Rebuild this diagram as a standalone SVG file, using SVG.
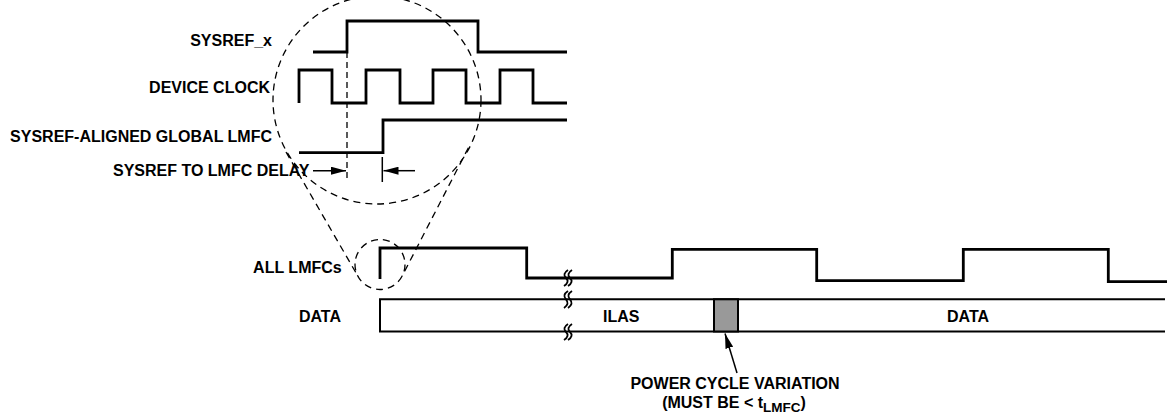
<svg xmlns="http://www.w3.org/2000/svg" width="1167" height="416" viewBox="0 0 1167 416">
<style>
text{font-family:"Liberation Sans",Arial,sans-serif;font-weight:bold;font-size:16px;fill:#000}
.sig{fill:none;stroke:#000;stroke-width:2.8;stroke-linejoin:miter;stroke-linecap:butt}
.box{fill:none;stroke:#000;stroke-width:2}
.dash{fill:none;stroke:#000;stroke-width:1.3;stroke-dasharray:7 5}
.vdash{fill:none;stroke:#000;stroke-width:1.3;stroke-dasharray:6 4}
.thin{fill:none;stroke:#000;stroke-width:1.5}
.sq{fill:none;stroke:#000;stroke-width:1.8}
</style>
<defs>
<marker id="ah" markerWidth="15" markerHeight="8" refX="15" refY="4" orient="auto" markerUnits="userSpaceOnUse">
<path d="M0,0 L15,4 L0,8 Z" fill="#000"/>
</marker>
</defs>
<rect x="0" y="0" width="1167" height="416" fill="#fff"/>

<g id="zoom-lens">
<circle class="dash" cx="377" cy="100" r="104"/>
<circle class="dash" cx="380" cy="264.5" r="25"/>
<line class="dash" x1="286" y1="152" x2="358.4" y2="277"/>
<line class="dash" x1="468.4" y1="147.7" x2="402.2" y2="276"/>
</g>

<g id="sysref-x">
<text x="272" y="45.7" text-anchor="end">SYSREF_x</text>
<path class="sig" d="M313,52 H347 V21 H478 V52 H567"/>
</g>

<g id="device-clock">
<text x="270" y="93.4" text-anchor="end">DEVICE CLOCK</text>
<path class="sig" d="M299,103 V70 H332 V103 H366 V70 H400 V103 H433 V70 H466 V103 H500 V70 H533 V103 H567"/>
</g>

<g id="global-lmfc">
<text x="272" y="142.4" text-anchor="end">SYSREF-ALIGNED GLOBAL LMFC</text>
<path class="sig" d="M299,152.7 H383 V120 H567"/>
</g>

<g id="delay">
<text x="113" y="176.4">SYSREF TO LMFC DELAY</text>
<line class="vdash" x1="347" y1="52" x2="347" y2="182"/>
<line class="thin" x1="382.3" y1="157" x2="382.3" y2="182"/>
</g>

<g id="all-lmfcs">
<text x="341.7" y="273" text-anchor="end">ALL LMFCs</text>
<path class="sig" d="M380,279 V248 H526.7 V278 H672.3 V249.3 H816.7 V280.7 H963.3 V249.3 H1108.3 V281.7 H1167"/>
</g>

<g id="data">
<text x="341" y="322" text-anchor="end">DATA</text>
<path class="box" d="M1165,299.3 H380 V331.5 H1165"/>
<rect x="714" y="299.3" width="24" height="32.2" fill="#999" stroke="#000" stroke-width="2"/>
<text x="603" y="322">ILAS</text>
<text x="947" y="322">DATA</text>
</g>

<g id="breaks">
<path class="sq" d="M568,270 Q562,274 566,278 Q570,282 564,286 M572,270 Q566,274 570,278 Q574,282 568,286"/>
<path class="sq" d="M568,291 Q562,295 566,299.3 Q570,304 564,308 M572,291 Q566,295 570,299.3 Q574,304 568,308"/>
<path class="sq" d="M568,324 Q562,328 566,332 Q570,336 564,340 M572,324 Q566,328 570,332 Q574,336 568,340"/>
</g>

<g id="power-cycle-label">
<text x="735" y="389" text-anchor="middle">POWER CYCLE VARIATION</text>
<text x="734" y="408.3" text-anchor="middle">(MUST BE &lt; t<tspan font-size="13.5" dy="3.5">LMFC</tspan><tspan dy="-3.5">)</tspan></text>
</g>

<g id="connectors">
<line class="thin" x1="313" y1="170.7" x2="346" y2="170.7" marker-end="url(#ah)"/>
<line class="thin" x1="415" y1="170.7" x2="383.5" y2="170.7" marker-end="url(#ah)"/>
<line class="thin" x1="737" y1="373" x2="725" y2="333.5" marker-end="url(#ah)"/>
</g>
</svg>
